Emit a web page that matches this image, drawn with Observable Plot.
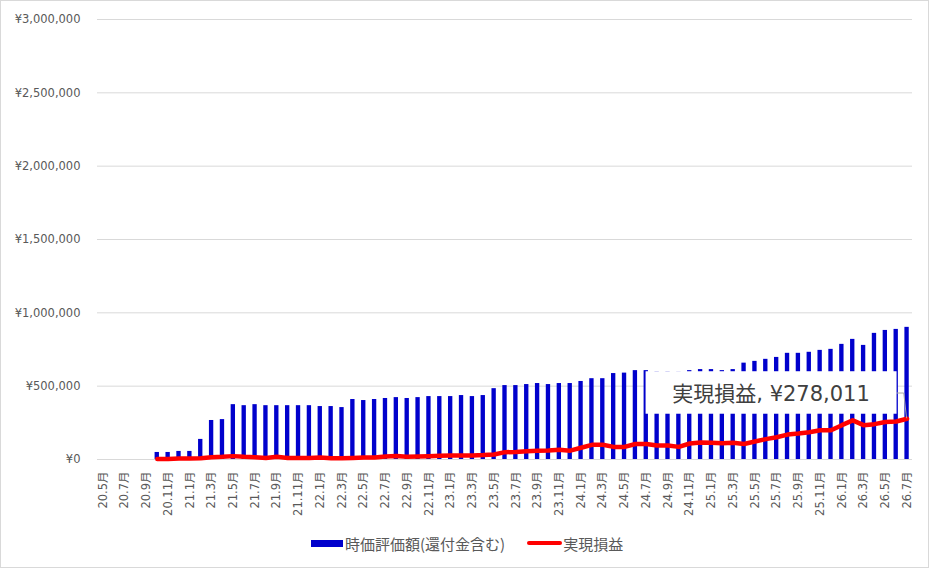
<!DOCTYPE html>
<html>
<head>
<meta charset="utf-8">
<script src="https://cdn.jsdelivr.net/npm/d3@7"></script>
<script src="https://cdn.jsdelivr.net/npm/@observablehq/plot@0.6"></script>
<style>
  body { margin: 0; background: #fff; }
  #wrap { position: relative; width: 931px; height: 568px; overflow: hidden; background: #fff;
          font-family: "DejaVu Sans", "Noto Sans CJK JP", sans-serif; }
  #frame { position: absolute; left: 0; top: 0; width: 927px; height: 566px; border: 1px solid #d9d9d9; pointer-events: none; }
  #chart { position: absolute; left: 0; top: 0; }
  #legend { position: absolute; left: 311px; top: 534px; height: 18px; display: flex; align-items: center;
            font-family: "Noto Sans CJK JP", sans-serif; font-size: 15px; color: #595959; white-space: nowrap; }
  .sw-bar { width: 32px; height: 7px; background: #0000cc; margin-right: 2px; }
  .sw-line { width: 35px; height: 4px; background: #ff0000; border-radius: 2px; margin-left: 22px; margin-right: 1px; }
</style>
</head>
<body>
<div id="wrap">
  <div id="chart"></div>
  <div id="legend">
    <div class="sw-bar"></div><span id="lg1"></span>
    <div class="sw-line"></div><span id="lg2"></span>
  </div>
  <div id="frame"></div>
</div>
<script>
// ---- Data ----
const months = [
  "20.5月","20.6月","20.7月","20.8月","20.9月","20.10月","20.11月","20.12月",
  "21.1月","21.2月","21.3月","21.4月","21.5月","21.6月","21.7月","21.8月","21.9月","21.10月","21.11月","21.12月",
  "22.1月","22.2月","22.3月","22.4月","22.5月","22.6月","22.7月","22.8月","22.9月","22.10月","22.11月","22.12月",
  "23.1月","23.2月","23.3月","23.4月","23.5月","23.6月","23.7月","23.8月","23.9月","23.10月","23.11月","23.12月",
  "24.1月","24.2月","24.3月","24.4月","24.5月","24.6月","24.7月","24.8月","24.9月","24.10月","24.11月","24.12月",
  "25.1月","25.2月","25.3月","25.4月","25.5月","25.6月","25.7月","25.8月","25.9月","25.10月","25.11月","25.12月",
  "26.1月","26.2月","26.3月","26.4月","26.5月","26.6月","26.7月"
];

const tickLabels = [
  "20.5月","20.7月","20.9月","20.11月",
  "21.1月","21.3月","21.5月","21.7月","21.9月","21.11月",
  "22.1月","22.3月","22.5月","22.7月","22.9月","22.11月",
  "23.1月","23.3月","23.5月","23.7月","23.9月","23.11月",
  "24.1月","24.3月","24.5月","24.7月","24.9月","24.11月",
  "25.1月","25.3月","25.5月","25.7月","25.9月","25.11月",
  "26.1月","26.3月","26.5月","26.7月"
];

const yTicks = [0, 500000, 1000000, 1500000, 2000000, 2500000, 3000000];

const seriesBarName = "時価評価額(還付金含む)";
const seriesLineName = "実現損益";

// 時価評価額(還付金含む)
const valuation = [
  null, null, null, null, null, 48000, 48000, 55000,
  55000, 137000, 266000, 272000, 374000, 367000, 374000, 367000, 367000, 367000, 367000, 367000,
  361000, 361000, 354000, 409000, 402000, 409000, 416000, 422000, 416000, 422000, 429000, 429000,
  429000, 436000, 429000, 436000, 483000, 504000, 504000, 511000, 518000, 511000, 518000, 518000,
  532000, 551000, 551000, 586000, 589000, 606000, 606000, 598000, 598000, 596000, 606000, 613000,
  613000, 606000, 613000, 657000, 669000, 683000, 696000, 724000, 724000, 731000, 744000, 751000,
  785000, 819000, 778000, 860000, 880000, 887000, 901000
];

// 実現損益
const realized = [
  null, null, null, null, null, 4000, 4000, 7000,
  7000, 9000, 16000, 18000, 23000, 18000, 16000, 11000, 18000, 11000, 11000, 11000,
  14000, 9000, 9000, 11000, 14000, 14000, 21000, 24000, 19000, 21000, 23000, 25000,
  27000, 28000, 28000, 30000, 34000, 50000, 51000, 57000, 60000, 62000, 66000, 60000,
  80000, 100000, 100000, 86000, 86000, 106000, 106000, 95000, 95000, 86000, 109000, 116000,
  114000, 111000, 114000, 106000, 123000, 139000, 152000, 170000, 177000, 186000, 199000, 199000,
  234000, 267000, 234000, 241000, 256000, 259000, 278011
];

// ---- Build ----
const data = months.map((m, i) => ({month: m, value: valuation[i], realized: realized[i]}));
const barData = data.filter(d => d.value != null);
const lineData = data.filter(d => d.realized != null);
const last = lineData[lineData.length - 1];
const yen = d => "¥" + d3.format(",")(d);

function dataLabel(index, scales) {
  const x = scales.x, y = scales.y;
  const bw = x.bandwidth ? x.bandwidth() : 0;
  const px = x(last.month) + bw / 2;
  const py = y(last.realized);
  const g = d3.create("svg:g");
  g.append("path")
    .attr("d", `M${px - 10},${py - 25.2}H${px - 2.8}L${px},${py}`)
    .attr("fill", "none").attr("stroke", "#a6a6a6").attr("stroke-width", 1);
  g.append("rect")
    .attr("x", px - 261).attr("y", py - 47).attr("width", 251).attr("height", 42.5)
    .attr("fill", "#fff");
  g.append("text")
    .attr("x", px - 135.5).attr("y", py - 16.8)
    .attr("text-anchor", "middle")
    .attr("font-family", "'DejaVu Sans','Noto Sans CJK JP',sans-serif")
    .attr("font-size", 21).attr("fill", "#404040")
    .text(`${seriesLineName}, ${yen(last.realized)}`);
  return g.node();
}

const chart = Plot.plot({
  width: 931,
  height: 528,
  marginLeft: 97,
  marginRight: 19,
  marginTop: 19,
  marginBottom: 69,
  style: {fontFamily: "'DejaVu Sans','Noto Sans CJK JP',sans-serif", fontSize: "11.5px", color: "#595959", background: "transparent", overflow: "visible"},
  x: {type: "band", domain: months, paddingInner: 0.6, paddingOuter: 0.3, label: null},
  y: {domain: [0, 3000000], label: null},
  marks: [
    Plot.gridY(yTicks, {stroke: "#d9d9d9", strokeOpacity: 1, strokeWidth: 1}),
    Plot.axisY(yTicks, {tickSize: 0, tickPadding: 17, tickFormat: yen, label: null}),
    Plot.axisX(tickLabels, {tickSize: 0, tickPadding: 12, tickRotate: -90, label: null}),
    Plot.barY(barData, {x: "month", y: "value", fill: "#0000cc"}),
    Plot.line(lineData, {x: "month", y: "realized", stroke: "#ff0000", strokeWidth: 4.5, strokeLinejoin: "round", strokeLinecap: "round"}),
    dataLabel
  ]
});
document.getElementById("chart").appendChild(chart);
document.getElementById("lg1").textContent = seriesBarName;
document.getElementById("lg2").textContent = seriesLineName;
</script>
</body>
</html>
